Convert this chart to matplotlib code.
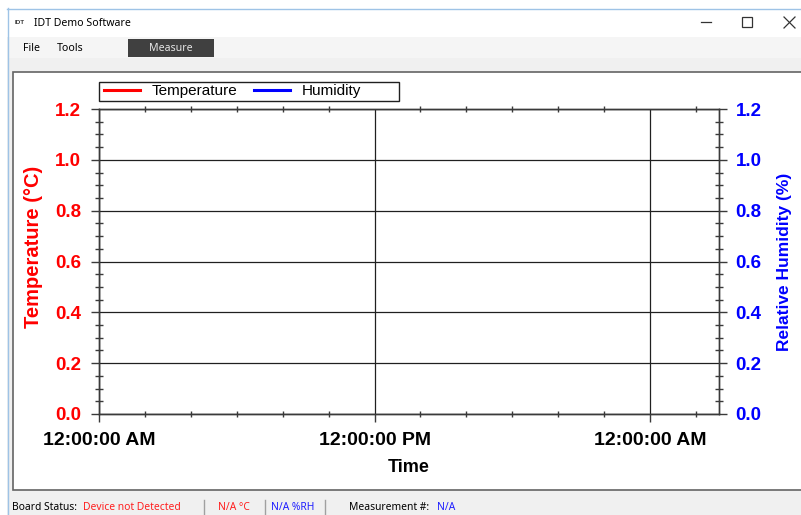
import matplotlib
matplotlib.use("Agg")
import matplotlib.pyplot as plt
from matplotlib.patches import Rectangle
from matplotlib.lines import Line2D
from matplotlib.ticker import MultipleLocator, FixedLocator

# ---------------- data ----------------
time_hours = []            # no measurements (device not detected)
temperature_values = []
humidity_values = []
x_major_ticks = [0, 12, 24]
x_tick_labels = ["12:00:00 AM", "12:00:00 PM", "12:00:00 AM"]
x_range = (0, 27)
y_range = (0.0, 1.2)
y_tick_values = [0.0, 0.2, 0.4, 0.6, 0.8, 1.0, 1.2]
series_names = ["Temperature", "Humidity"]
series_colors = ["#ff0000", "#0000ff"]

W, H = 801, 515
fig = plt.figure(figsize=(W / 100, H / 100), dpi=100)
fig.patch.set_facecolor("#f0f0f0")
FONT = "Liberation Sans"
UI = "Noto Sans"


def fx(x):
    return x / W


def fy(y):
    return 1 - y / H


def rect(x0, y0, x1, y1, fc, ec="none", lw=0, z=0):
    fig.add_artist(Rectangle((fx(x0), fy(y1)), fx(x1) - fx(x0), fy(y0) - fy(y1),
                             transform=fig.transFigure, facecolor=fc,
                             edgecolor=ec, linewidth=lw, zorder=z))


def hline(x0, x1, y, color, lw=1, z=1):
    fig.add_artist(Line2D([fx(x0), fx(x1)], [fy(y), fy(y)], transform=fig.transFigure,
                          color=color, lw=lw, zorder=z))


def vline(x, y0, y1, color, lw=1, z=1):
    fig.add_artist(Line2D([fx(x), fx(x)], [fy(y0), fy(y1)], transform=fig.transFigure,
                          color=color, lw=lw, zorder=z))


def txt(x, y, s, color="black", size=8, ha="left", weight="normal", family=UI):
    fig.text(fx(x), fy(y), s, color=color, fontsize=size, ha=ha, va="center",
             fontweight=weight, family=family, zorder=5)


# ---------------- window chrome ----------------
rect(0, 0, W, 8, "white")
rect(7, 8, W, 37, "white")
hline(7, W, 8.5, "#9ec3e6", lw=1)
vline(7.5, 8, H, "#9ec3e6", lw=1)
rect(8, 37, W, 58, "#f5f5f5")
rect(0, 0, 7, H, "white")

txt(15, 22.5, "IDT", color="#333333", size=4.5, weight="bold", family=FONT)
txt(34, 23, "IDT Demo Software", size=7.6)
# window controls
hline(701, 711, 22, "#333333", lw=0.9)
rect(742, 17, 752, 27, "none", ec="#333333", lw=0.9, z=2)
fig.add_artist(Line2D([fx(784), fx(795)], [fy(17), fy(28)], transform=fig.transFigure,
                      color="#333333", lw=0.9))
fig.add_artist(Line2D([fx(784), fx(795)], [fy(28), fy(17)], transform=fig.transFigure,
                      color="#333333", lw=0.9))

# menu
txt(23, 48.5, "File", size=7.6)
txt(57, 48.5, "Tools", size=7.6)
rect(128, 39, 214, 57, "#404040", z=1)
txt(171, 48.5, "Measure", color="#e6e6e6", size=7.6, ha="center")

# chart panel
rect(13, 72, W + 5, 490, "white", ec="#646464", lw=1.2, z=0.5)

# status bar
txt(12, 508, "Board Status:", size=7.4)
txt(83, 508, "Device not Detected", color="#ff2020", size=7.4)
vline(204, 500, 515, "#a0a0a0")
txt(218, 508, "N/A °C", color="#ff2020", size=7.4)
vline(265, 500, 515, "#a0a0a0")
txt(271, 508, "N/A %RH", color="#2020ff", size=7.4)
vline(325, 500, 515, "#a0a0a0")
txt(349, 508, "Measurement #:", size=7.4)
txt(437, 508, "N/A", color="#2020ff", size=7.4)

# ---------------- chart ----------------
left, right, top, bottom = 99, 719, 109, 414
ax = fig.add_axes([fx(left), fy(bottom), fx(right) - fx(left), fy(top) - fy(bottom)])
ax.set_zorder(3)
ax.set_facecolor("white")
ax2 = ax.twinx()

l1, = ax.plot(time_hours, temperature_values, color=series_colors[0], lw=2.2,
              label=series_names[0])
l2, = ax2.plot(time_hours, humidity_values, color=series_colors[1], lw=2.2,
               label=series_names[1])

axis_col = "#3a3a3a"
for a in (ax, ax2):
    a.set_xlim(*x_range)
    a.set_ylim(*y_range)
    for sp in a.spines.values():
        sp.set_color(axis_col)
        sp.set_linewidth(1.0)

ax.xaxis.set_major_locator(FixedLocator(x_major_ticks))
ax.set_xticklabels(x_tick_labels)
ax.xaxis.set_minor_locator(MultipleLocator(2))
ax.yaxis.set_major_locator(FixedLocator(y_tick_values))
ax.yaxis.set_minor_locator(MultipleLocator(0.05))
ax2.yaxis.set_major_locator(FixedLocator(y_tick_values))
ax2.yaxis.set_minor_locator(MultipleLocator(0.05))

ax.grid(True, which="major", color="#202020", lw=0.9)

ax.tick_params(axis="x", which="major", direction="out", length=6, width=1,
               color=axis_col, labelsize=14, pad=7)
ax.tick_params(axis="x", which="minor", direction="inout", length=5, width=1,
               color=axis_col, top=True, bottom=True)
ax.tick_params(axis="y", which="major", direction="out", length=6, width=1,
               color=axis_col, labelsize=13.5, labelcolor="#ff0000", pad=7)
ax.tick_params(axis="y", which="minor", direction="inout", length=6, width=1,
               color=axis_col)
ax2.tick_params(axis="y", which="major", direction="out", length=6, width=1,
                color=axis_col, labelsize=13.5, labelcolor="#0000ff", pad=6)
ax2.tick_params(axis="y", which="minor", direction="inout", length=6, width=1,
                color=axis_col)

for lab in ax.get_xticklabels():
    lab.set_fontweight("bold")
    lab.set_family(FONT)
for lab in ax.get_yticklabels() + ax2.get_yticklabels():
    lab.set_fontweight("bold")
    lab.set_family(FONT)

ax.set_xlabel("Time", fontsize=13, fontweight="bold", family=FONT, labelpad=7)
ax.set_ylabel("Temperature (°C)", fontsize=14.5, fontweight="bold", family=FONT,
              color="#ff0000", va="center", ha="center")
ax.yaxis.set_label_coords((33.5 - left) / (right - left), (bottom - 247) / (bottom - top))
ax2.set_ylabel("Relative Humidity (%)", fontsize=12.5, fontweight="bold", family=FONT,
               color="#0000ff", va="center", ha="center")
ax2.yaxis.set_label_coords((785 - left) / (right - left), (bottom - 262) / (bottom - top))

# legend
rect(99, 82, 399, 101, "white", ec="#202020", lw=1, z=4)
leg = fig.legend(handles=[l1, l2], labels=series_names, ncol=2, frameon=False,
                 loc="center left", bbox_to_anchor=(fx(104), fy(91.5)),
                 prop={"family": FONT, "size": 11}, handlelength=2.35,
                 handletextpad=0.8, columnspacing=1.05, borderpad=0,
                 borderaxespad=0)
leg.set_zorder(6)

fig.savefig("out.png", dpi=100, facecolor=fig.get_facecolor())
